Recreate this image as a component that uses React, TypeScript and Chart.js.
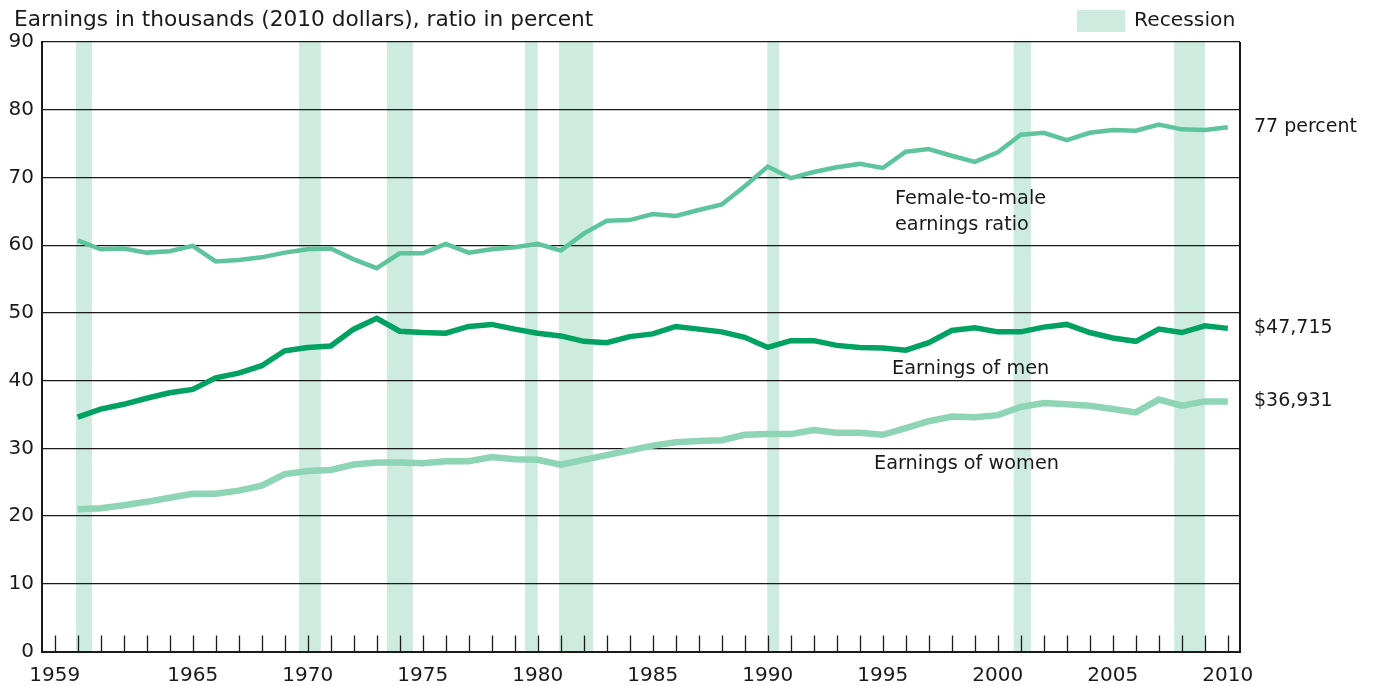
import React, { useEffect, useRef } from "react";
import { Chart, registerables } from "chart.js";

Chart.register(...registerables);

// ---------- Data ----------
const years = [
  1960, 1961, 1962, 1963, 1964, 1965, 1966, 1967, 1968, 1969,
  1970, 1971, 1972, 1973, 1974, 1975, 1976, 1977, 1978, 1979,
  1980, 1981, 1982, 1983, 1984, 1985, 1986, 1987, 1988, 1989,
  1990, 1991, 1992, 1993, 1994, 1995, 1996, 1997, 1998, 1999,
  2000, 2001, 2002, 2003, 2004, 2005, 2006, 2007, 2008, 2009, 2010,
];

const ratioPercent = [
  60.7, 59.4, 59.5, 58.9, 59.1, 59.9, 57.6, 57.8, 58.2, 58.9,
  59.4, 59.5, 57.9, 56.6, 58.8, 58.8, 60.2, 58.9, 59.4, 59.7,
  60.2, 59.2, 61.7, 63.6, 63.7, 64.6, 64.3, 65.2, 66.0, 68.7,
  71.6, 69.9, 70.8, 71.5, 72.0, 71.4, 73.8, 74.2, 73.2, 72.3,
  73.7, 76.3, 76.6, 75.5, 76.6, 77.0, 76.9, 77.8, 77.1, 77.0, 77.4,
];

const menEarnings = [
  34.6, 35.8, 36.5, 37.4, 38.2, 38.7, 40.4, 41.1, 42.2, 44.4,
  44.9, 45.1, 47.6, 49.2, 47.3, 47.1, 47.0, 48.0, 48.3, 47.6,
  47.0, 46.6, 45.8, 45.6, 46.5, 46.9, 48.0, 47.6, 47.2, 46.4,
  44.9, 45.9, 45.9, 45.2, 44.9, 44.8, 44.5, 45.6, 47.4, 47.8,
  47.2, 47.2, 47.9, 48.3, 47.1, 46.3, 45.8, 47.6, 47.1, 48.1, 47.715,
];

const womenEarnings = [
  21.0, 21.15, 21.6, 22.1, 22.7, 23.3, 23.3, 23.75, 24.5, 26.2,
  26.65, 26.8, 27.6, 27.9, 27.9, 27.8, 28.1, 28.1, 28.7, 28.4,
  28.3, 27.6, 28.3, 29.0, 29.7, 30.4, 30.9, 31.1, 31.2, 32.0,
  32.1, 32.1, 32.7, 32.3, 32.3, 32.0, 33.0, 34.0, 34.7, 34.6,
  34.9, 36.1, 36.7, 36.5, 36.3, 35.8, 35.3, 37.2, 36.3, 36.931, 36.931,
];

const recessionStarts = [1959.93, 1969.63, 1973.44, 1979.45, 1980.93, 1989.98, 2000.69, 2007.67];
const recessionEnds = [1960.62, 1970.57, 1974.57, 1980.0, 1982.4, 1990.5, 2001.44, 2009.0];

const xTickYears = [
  1959, 1960, 1961, 1962, 1963, 1964, 1965, 1966, 1967, 1968, 1969,
  1970, 1971, 1972, 1973, 1974, 1975, 1976, 1977, 1978, 1979,
  1980, 1981, 1982, 1983, 1984, 1985, 1986, 1987, 1988, 1989,
  1990, 1991, 1992, 1993, 1994, 1995, 1996, 1997, 1998, 1999,
  2000, 2001, 2002, 2003, 2004, 2005, 2006, 2007, 2008, 2009, 2010,
];
const xLabelYears = [1959, 1965, 1970, 1975, 1980, 1985, 1990, 1995, 2000, 2005, 2010];

const endLabels = ["77 percent", "$47,715", "$36,931"];

const titleText = "Earnings in thousands (2010 dollars), ratio in percent";
const legendText = "Recession";

// ---------- Styles ----------
const FONT = "'DejaVu Sans', sans-serif";
const RECESSION_COLOR = "#cdebdf";
const RATIO_COLOR = "#5dc49c";
const MEN_COLOR = "#00a262";
const WOMEN_COLOR = "#8ed5b6";
const INK = "#1a1a1a";

// inline label anchors (in data coordinates)
const inlineLabels = [
  { lines: ["Female-to-male", "earnings ratio"], x: 1995.53, y: 64.9 },
  { lines: ["Earnings of men"], x: 1995.4, y: 41.72 },
  { lines: ["Earnings of women"], x: 1994.62, y: 27.69 },
];

const overlayPlugin = {
  id: "overlay",
  beforeDraw(chart: any) {
    const { ctx, chartArea, scales } = chart;
    const xs = scales.x;
    ctx.save();
    ctx.fillStyle = RECESSION_COLOR;
    recessionStarts.forEach((s, i) => {
      const x0 = xs.getPixelForValue(s);
      const x1 = xs.getPixelForValue(recessionEnds[i]);
      ctx.fillRect(x0, chartArea.top, x1 - x0, chartArea.bottom - chartArea.top);
    });
    ctx.restore();
  },
  afterDraw(chart: any) {
    const { ctx, chartArea, scales } = chart;
    const xs = scales.x;
    const ys = scales.y;
    ctx.save();
    // tick marks pointing up
    ctx.strokeStyle = INK;
    ctx.lineWidth = 1.3;
    xs.ticks.forEach((t: any) => {
      const px = Math.round(xs.getPixelForValue(t.value)) + 0.5;
      ctx.beginPath();
      ctx.moveTo(px, chartArea.bottom);
      ctx.lineTo(px, chartArea.bottom - 16);
      ctx.stroke();
    });
    // right frame line
    ctx.lineWidth = 2;
    ctx.beginPath();
    ctx.moveTo(chartArea.right, chartArea.top);
    ctx.lineTo(chartArea.right, chartArea.bottom);
    ctx.stroke();

    // title
    ctx.fillStyle = INK;
    ctx.textBaseline = "middle";
    ctx.textAlign = "left";
    ctx.font = `21.7px ${FONT}`;
    ctx.fillText(titleText, 14, 20);

    // legend
    ctx.fillStyle = RECESSION_COLOR;
    ctx.fillRect(1077, 10, 48, 22);
    ctx.fillStyle = INK;
    ctx.font = `20.3px ${FONT}`;
    ctx.fillText(legendText, 1134, 21);

    // end labels
    ctx.font = `19px ${FONT}`;
    const lastIdx = years.length - 1;
    const lastVals = [ratioPercent[lastIdx], menEarnings[lastIdx], womenEarnings[lastIdx]];
    endLabels.forEach((txt, i) => {
      ctx.fillText(txt, chartArea.right + 14, ys.getPixelForValue(lastVals[i]));
    });

    // inline labels
    ctx.font = `19.3px ${FONT}`;
    inlineLabels.forEach((lab) => {
      const px = xs.getPixelForValue(lab.x);
      const py = ys.getPixelForValue(lab.y);
      const n = lab.lines.length;
      lab.lines.forEach((ln, k) => {
        ctx.fillText(ln, px, py + (k - (n - 1) / 2) * 26);
      });
    });
    ctx.restore();
  },
};

export default function App() {
  const canvasRef = useRef<HTMLCanvasElement | null>(null);

  useEffect(() => {
    if (!canvasRef.current) return;
    const mk = (vals: number[]) => years.map((yr, i) => ({ x: yr, y: vals[i] }));
    const chart = new Chart(canvasRef.current, {
      type: "line",
      data: {
        datasets: [
          {
            label: "Female-to-male earnings ratio",
            data: mk(ratioPercent),
            borderColor: RATIO_COLOR,
            borderWidth: 4.5,
            pointRadius: 0,
            tension: 0,
            borderJoinStyle: "miter",
            fill: false,
          },
          {
            label: "Earnings of men",
            data: mk(menEarnings),
            borderColor: MEN_COLOR,
            borderWidth: 5.5,
            pointRadius: 0,
            tension: 0,
            borderJoinStyle: "miter",
            fill: false,
          },
          {
            label: "Earnings of women",
            data: mk(womenEarnings),
            borderColor: WOMEN_COLOR,
            borderWidth: 6.5,
            pointRadius: 0,
            tension: 0,
            borderJoinStyle: "miter",
            fill: false,
          },
        ],
      },
      options: {
        animation: false,
        responsive: true,
        maintainAspectRatio: false,
        layout: { padding: { top: 42, right: 134, left: 0, bottom: 0 } },
        plugins: {
          legend: { display: false },
          title: { display: false },
          tooltip: { enabled: false },
        },
        scales: {
          x: {
            type: "linear",
            min: 1958.45,
            max: 2010.53,
            afterBuildTicks: (scale: any) => {
              scale.ticks = xTickYears.map((v) => ({ value: v }));
            },
            afterFit: (scale: any) => {
              scale.height = 34.5;
            },
            ticks: {
              autoSkip: false,
              maxRotation: 0,
              minRotation: 0,
              padding: 4,
              color: INK,
              font: { family: FONT, size: 20 },
              callback: (v: any) => (xLabelYears.includes(Number(v)) ? String(v) : ""),
            },
            grid: { display: false },
            border: { display: true, color: INK, width: 2 },
          },
          y: {
            min: 0,
            max: 90,
            afterFit: (scale: any) => {
              scale.width = 42;
            },
            ticks: {
              stepSize: 10,
              padding: 8,
              color: INK,
              font: { family: FONT, size: 20 },
            },
            grid: { color: INK, lineWidth: 1.2, drawTicks: false },
            border: { display: true, color: INK, width: 2 },
          },
        },
      },
      plugins: [overlayPlugin],
    });
    return () => chart.destroy();
  }, []);

  return (
    <div style={{ position: "absolute", left: 0, top: 0, width: 1374, height: 686, background: "#fff" }}>
      <canvas ref={canvasRef} />
    </div>
  );
}
